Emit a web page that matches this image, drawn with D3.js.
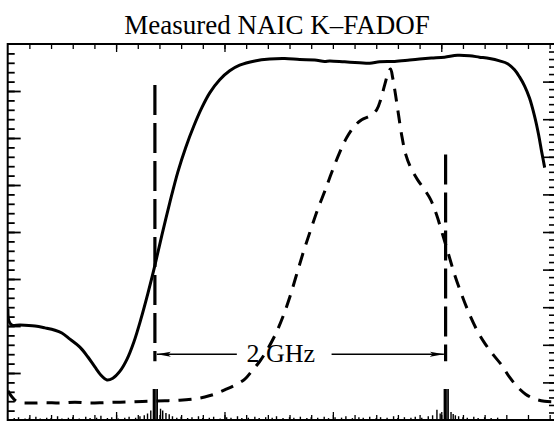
<!DOCTYPE html>
<html>
<head>
<meta charset="utf-8">
<script src="https://cdn.jsdelivr.net/npm/d3@7"></script>
<style>
body { margin: 0; background: #fff; }
svg { display: block; }
</style>
</head>
<body>
<div id="vis-container"></div>
<script>
const width = 555, height = 421;
const frame = {left: 7.7, top: 44, right: 554, bottom: 420};

const titleText = "Measured NAIC K\u2013FADOF";

// x in tick units, y in left-axis units
const solid = [
    [0.01,2.36],[0.06,2.10],[0.20,2.02],[0.57,2.02],[1.26,2.00],[1.72,1.96],[2.18,1.91],
    [2.50,1.85],[2.87,1.72],[3.33,1.55],[3.70,1.34],[4.02,1.13],[4.35,0.93],[4.58,0.85],
    [4.85,0.89],[5.18,1.04],[5.50,1.29],[5.82,1.66],[6.14,2.14],[6.47,2.70],[6.79,3.29],
    [7.11,3.93],[7.48,4.63],[7.85,5.28],[8.22,5.81],[8.59,6.26],[8.95,6.64],[9.32,6.96],
    [9.78,7.24],[10.24,7.43],[10.70,7.55],[11.40,7.64],[12.09,7.68],[12.78,7.69],[13.47,7.67],
    [14.16,7.66],[14.62,7.63],[14.85,7.64],[15.54,7.62],[16.24,7.60],[16.70,7.59],[17.16,7.62],
    [17.85,7.63],[18.54,7.66],[19.00,7.68],[19.55,7.70],[20.15,7.72],[20.75,7.76],[21.30,7.75],
    [21.76,7.72],[22.23,7.69],[22.69,7.64],[23.06,7.58],[23.38,7.45],[23.61,7.30],[23.84,7.11],
    [24.07,6.85],[24.30,6.47],[24.49,6.07],[24.63,5.71],[24.77,5.37]
];

const dashed = [
    [0.01,0.62],[0.20,0.49],[0.47,0.38],[1.03,0.36],[1.72,0.37],[2.41,0.36],[3.10,0.38],
    [3.79,0.36],[4.48,0.37],[5.18,0.38],[5.87,0.39],[6.56,0.40],[7.25,0.41],[7.94,0.42],
    [8.63,0.45],[9.09,0.49],[9.55,0.55],[10.01,0.64],[10.48,0.74],[10.94,0.87],[11.26,1.04],
    [11.63,1.25],[11.99,1.51],[12.36,1.83],[12.69,2.19],[13.01,2.61],[13.33,3.10],[13.65,3.59],
    [13.98,4.05],[14.30,4.48],[14.62,4.86],[14.94,5.26],[15.31,5.69],[15.64,6.01],[16.01,6.26],
    [16.33,6.39],[16.70,6.47],[17.02,6.60],[17.20,6.81],[17.39,7.13],[17.57,7.41],[17.66,7.47],
    [17.76,7.28],[17.89,6.92],[18.03,6.49],[18.17,6.07],[18.36,5.65],[18.59,5.37],[18.91,5.11],
    [19.23,4.90],[19.51,4.69],[19.78,4.37],[20.06,3.95],[20.34,3.52],[20.61,3.10],[20.94,2.67],
    [21.30,2.25],[21.67,1.89],[22.04,1.61],[22.41,1.38],[22.78,1.17],[23.15,0.91],[23.52,0.70],
    [23.89,0.55],[24.30,0.45],[24.76,0.40],[25.20,0.39]
];

// spiky trace along the bottom
const noise = [
    [0.3,0.04],[0.5,0.06],[0.8,0.03],[1.0,0.05],[1.3,0.07],[1.5,0.03],[1.8,0.05],[2.0,0.04],
    [2.3,0.08],[2.5,0.03],[2.8,0.05],[3.0,0.06],[3.3,0.03],[3.6,0.07],[3.8,0.04],[4.1,0.05],
    [4.3,0.09],[4.6,0.04],[4.8,0.06],[5.1,0.03],[5.4,0.05],[5.6,0.07],[5.9,0.05],[6.1,0.08],
    [6.3,0.10],[6.45,0.14],[6.6,0.20],[6.72,0.66],[6.78,0.66],[6.84,0.66],[6.90,0.66],
    [7.05,0.24],[7.15,0.20],[7.3,0.15],[7.45,0.12],[7.6,0.08],[7.8,0.05],[8.0,0.07],[8.3,0.04],
    [8.5,0.06],[8.8,0.08],[9.0,0.04],[9.3,0.05],[9.5,0.07],[9.8,0.03],[10.1,0.06],[10.3,0.05],
    [10.6,0.08],[10.8,0.04],[11.1,0.05],[11.4,0.07],[11.6,0.04],[11.9,0.06],[12.2,0.05],
    [12.4,0.08],[12.7,0.04],[13.0,0.06],[13.2,0.05],[13.5,0.07],[13.8,0.04],[14.0,0.06],
    [14.3,0.05],[14.6,0.07],[14.8,0.04],[15.1,0.06],[15.4,0.05],[15.6,0.08],[15.9,0.04],
    [16.2,0.06],[16.4,0.05],[16.7,0.07],[17.0,0.04],[17.2,0.06],[17.5,0.05],[17.8,0.08],
    [18.0,0.04],[18.3,0.06],[18.6,0.05],[18.8,0.07],[19.1,0.05],[19.4,0.08],[19.6,0.10],
    [19.8,0.22],[19.95,0.14],[20.14,0.66],[20.20,0.66],[20.26,0.66],[20.32,0.66],[20.45,0.17],
    [20.55,0.13],[20.65,0.10],[20.8,0.08],[21.0,0.06],[21.2,0.05],[21.5,0.07],[21.7,0.04],
    [22.0,0.06],[22.3,0.04],[22.6,0.05]
];

// vertical markers: [x, yTop, yBottom]
const markers = [[6.79, 7.13, 1.25], [20.20, 5.65, 1.25]];

// 2 GHz span annotation
const spanLabel = "2 GHz";
const spanY = 1.40;
const spanArrows = [[10.57, 6.88], [14.94, 20.12]];
const spanLabelX = 12.6, spanLabelY = 1.23;

const xMinor = d3.range(1, 26);
const xMajorTop = [5, 10, 20];
const xMajorBottom = [5, 10, 15, 20];
const yLeftMinor = d3.range(1, 40).map(d => d / 5);
const yLeftMajor = d3.range(1, 8);
const yRightMinor = d3.range(1, 50).map(d => d / 5);
const yRightMajor = d3.range(1, 10);

let svg = d3.select("#vis-container")
    .append("svg")
    .attr("width", width)
    .attr("height", height);

let x = d3.scaleLinear().domain([0, 25.2]).range([frame.left, frame.right]);
let yL = d3.scaleLinear().domain([0, 8]).range([frame.bottom, frame.top]);
let yR = d3.scaleLinear().domain([0, 10]).range([frame.bottom, frame.top]);

svg.append("text")
    .attr("x", 277)
    .attr("y", 34)
    .attr("text-anchor", "middle")
    .attr("font-family", "Liberation Serif, Times New Roman, serif")
    .attr("font-size", 27)
    .attr("fill", "#000")
    .text(titleText);

svg.append("defs").append("clipPath")
    .attr("id", "plot-clip")
    .append("rect")
    .attr("x", frame.left)
    .attr("y", frame.top)
    .attr("width", frame.right - frame.left)
    .attr("height", frame.bottom - frame.top);

let addAxis = function(axis, transform, width){
    let g = svg.append("g")
        .attr("transform", transform)
        .call(axis.tickFormat(""));
    g.select(".domain").remove();
    g.selectAll(".tick line").attr("stroke", "#000").attr("stroke-width", width);
    return g;
}

// ticks point inward on all four sides
addAxis(d3.axisBottom(x).tickValues(xMinor).tickSize(5), `translate(0,${frame.top})`, 1.3);
addAxis(d3.axisBottom(x).tickValues(xMajorTop).tickSize(8), `translate(0,${frame.top})`, 1.3);
addAxis(d3.axisTop(x).tickValues(xMinor).tickSize(5), `translate(0,${frame.bottom})`, 1.3);
addAxis(d3.axisTop(x).tickValues(xMajorBottom).tickSize(8), `translate(0,${frame.bottom})`, 1.3);
addAxis(d3.axisRight(yL).tickValues(yLeftMinor).tickSize(7), `translate(${frame.left},0)`, 1.8);
addAxis(d3.axisRight(yL).tickValues(yLeftMajor).tickSize(13), `translate(${frame.left},0)`, 1.8);
addAxis(d3.axisLeft(yR).tickValues(yRightMinor).tickSize(5), `translate(${frame.right},0)`, 1.6);
addAxis(d3.axisLeft(yR).tickValues(yRightMajor).tickSize(11), `translate(${frame.right},0)`, 1.6);

// frame: left, top and bottom edges (the right edge falls off the picture)
svg.append("path")
    .attr("d", `M${frame.right},${frame.top}H${frame.left}V${frame.bottom}H${frame.right}`)
    .attr("fill", "none")
    .attr("stroke", "#000")
    .attr("stroke-width", 2);

let plot = svg.append("g").attr("clip-path", "url(#plot-clip)");

plot.selectAll(".noise")
    .data(noise)
    .enter().append("line")
    .attr("class", "noise")
    .attr("x1", d => x(d[0]))
    .attr("x2", d => x(d[0]))
    .attr("y1", yL(0))
    .attr("y2", d => yL(d[1]))
    .attr("stroke", "#000")
    .attr("stroke-width", 1.4);

let line = d3.line()
    .x(d => x(d[0]))
    .y(d => yL(d[1]))
    .curve(d3.curveCatmullRom);

plot.append("path")
    .datum(solid)
    .attr("d", line)
    .attr("fill", "none")
    .attr("stroke", "#000")
    .attr("stroke-width", 3)
    .attr("stroke-linejoin", "round");

plot.append("path")
    .datum(dashed)
    .attr("d", line)
    .attr("fill", "none")
    .attr("stroke", "#000")
    .attr("stroke-width", 3)
    .attr("stroke-dasharray", "13,9");

plot.selectAll(".marker")
    .data(markers)
    .enter().append("line")
    .attr("class", "marker")
    .attr("x1", d => x(d[0]))
    .attr("x2", d => x(d[0]))
    .attr("y1", d => yL(d[1]))
    .attr("y2", d => yL(d[2]))
    .attr("stroke", "#000")
    .attr("stroke-width", 3.2)
    .attr("stroke-dasharray", "30,8");

svg.select("defs").append("marker")
    .attr("id", "arrow")
    .attr("viewBox", "0 0 14 8")
    .attr("refX", 14)
    .attr("refY", 4)
    .attr("markerWidth", 14)
    .attr("markerHeight", 8)
    .attr("markerUnits", "userSpaceOnUse")
    .attr("orient", "auto")
    .append("path")
    .attr("d", "M0,1.5L14,4L0,6.5L3,4Z")
    .attr("fill", "#000");

svg.selectAll(".span-arrow")
    .data(spanArrows)
    .enter().append("line")
    .attr("class", "span-arrow")
    .attr("x1", d => x(d[0]))
    .attr("x2", d => x(d[1]))
    .attr("y1", yL(spanY))
    .attr("y2", yL(spanY))
    .attr("stroke", "#000")
    .attr("stroke-width", 1.5)
    .attr("marker-end", "url(#arrow)");

svg.append("text")
    .attr("x", x(spanLabelX))
    .attr("y", yL(spanLabelY))
    .attr("text-anchor", "middle")
    .attr("font-family", "Liberation Serif, Times New Roman, serif")
    .attr("font-size", 26)
    .attr("fill", "#000")
    .text(spanLabel);
</script>
</body>
</html>
